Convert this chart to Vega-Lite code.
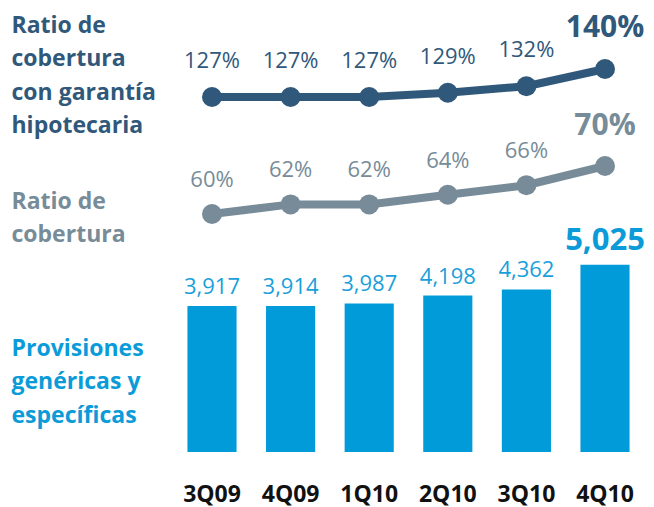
{
  "$schema": "https://vega.github.io/schema/vega-lite/v6.json",
  "width": 654,
  "height": 507,
  "autosize": {"type": "none"},
  "padding": 0,
  "background": "white",
  "config": {"view": {"stroke": null}, "font": "Open Sans"},
  "data": {
    "values": [
      {"quarter": "3Q09", "prov": 3917, "hip": 1.27, "cob": 0.60, "last": false},
      {"quarter": "4Q09", "prov": 3914, "hip": 1.27, "cob": 0.62, "last": false},
      {"quarter": "1Q10", "prov": 3987, "hip": 1.27, "cob": 0.62, "last": false},
      {"quarter": "2Q10", "prov": 4198, "hip": 1.29, "cob": 0.64, "last": false},
      {"quarter": "3Q10", "prov": 4362, "hip": 1.32, "cob": 0.66, "last": false},
      {"quarter": "4Q10", "prov": 5025, "hip": 1.40, "cob": 0.70, "last": true}
    ]
  },
  "encoding": {
    "x": {
      "field": "quarter",
      "type": "nominal",
      "sort": null,
      "scale": {"type": "band", "range": [172.7, 644.3], "paddingInner": 0.375, "paddingOuter": 0.1875},
      "axis": {
        "orient": "bottom", "offset": -6, "domain": false, "ticks": false, "tickSize": 0,
        "labelPadding": 0, "labelBaseline": "alphabetic", "labelFontSize": 23,
        "labelFontWeight": "bold", "labelColor": "#111111", "labelFont": "Open Sans",
        "labelAngle": 0, "title": null, "grid": false
      }
    }
  },
  "layer": [
    {
      "encoding": {
        "y": {
          "field": "prov", "type": "quantitative",
          "scale": {"domain": [-1475.6, 12126.7], "nice": false, "zero": false},
          "axis": {
            "orient": "left", "offset": 0, "labels": false, "ticks": false, "domain": false, "grid": false,
            "title": ["Provisiones", "genéricas y", "específicas"],
            "titleAngle": 0, "titleAlign": "left", "titleBaseline": "alphabetic",
            "titleX": 11, "titleY": 355, "titleFontSize": 23, "titleFontWeight": "bold",
            "titleColor": "#0A9BD8", "titleLineHeight": 33.5, "titleFont": "Open Sans", "titlePadding": 0
          }
        }
      },
      "layer": [
        {"mark": {"type": "bar", "color": "#009BD8"}},
        {
          "transform": [{"filter": "!datum.last"}],
          "mark": {"type": "text", "baseline": "alphabetic", "dy": -12, "fontSize": 22, "color": "#1A9FDA", "font": "Open Sans"},
          "encoding": {"text": {"field": "prov", "type": "quantitative", "format": ",d"}}
        },
        {
          "transform": [{"filter": "datum.last"}],
          "mark": {"type": "text", "baseline": "alphabetic", "dy": -15, "fontSize": 31, "fontWeight": "bold", "color": "#0A9BD8", "font": "Open Sans"},
          "encoding": {"text": {"field": "prov", "type": "quantitative", "format": ",d"}}
        }
      ]
    },
    {
      "encoding": {
        "y": {
          "field": "hip", "type": "quantitative",
          "scale": {"domain": [-0.6336, 1.7204], "nice": false, "zero": false},
          "axis": {
            "orient": "left", "offset": 0, "labels": false, "ticks": false, "domain": false, "grid": false,
            "title": ["Ratio de", "cobertura", "con garantía", "hipotecaria"],
            "titleAngle": 0, "titleAlign": "left", "titleBaseline": "alphabetic",
            "titleX": 11, "titleY": 32, "titleFontSize": 23, "titleFontWeight": "bold",
            "titleColor": "#30587A", "titleLineHeight": 33.5, "titleFont": "Open Sans", "titlePadding": 0
          }
        }
      },
      "layer": [
        {"mark": {"type": "line", "color": "#30587A", "strokeWidth": 8}},
        {"mark": {"type": "circle", "color": "#30587A", "size": 400, "opacity": 1}},
        {
          "transform": [{"filter": "!datum.last"}],
          "mark": {"type": "text", "baseline": "alphabetic", "dy": -29, "fontSize": 22, "color": "#30587A", "font": "Open Sans"},
          "encoding": {"text": {"field": "hip", "type": "quantitative", "format": ".0%"}}
        },
        {
          "transform": [{"filter": "datum.last"}],
          "mark": {"type": "text", "baseline": "alphabetic", "dy": -32, "fontSize": 30, "fontWeight": "bold", "color": "#30587A", "font": "Open Sans"},
          "encoding": {"text": {"field": "hip", "type": "quantitative", "format": ".0%"}}
        }
      ]
    },
    {
      "encoding": {
        "y": {
          "field": "cob", "type": "quantitative",
          "scale": {"domain": [-0.0104, 1.0458], "nice": false, "zero": false},
          "axis": {
            "orient": "left", "offset": 0, "labels": false, "ticks": false, "domain": false, "grid": false,
            "title": ["Ratio de", "cobertura"],
            "titleAngle": 0, "titleAlign": "left", "titleBaseline": "alphabetic",
            "titleX": 11, "titleY": 208, "titleFontSize": 23, "titleFontWeight": "bold",
            "titleColor": "#778C98", "titleLineHeight": 33.5, "titleFont": "Open Sans", "titlePadding": 0
          }
        }
      },
      "layer": [
        {"mark": {"type": "line", "color": "#778C98", "strokeWidth": 8}},
        {"mark": {"type": "circle", "color": "#778C98", "size": 400, "opacity": 1}},
        {
          "transform": [{"filter": "!datum.last"}],
          "mark": {"type": "text", "baseline": "alphabetic", "dy": -27, "fontSize": 22, "color": "#778C98", "font": "Open Sans"},
          "encoding": {"text": {"field": "cob", "type": "quantitative", "format": ".0%"}}
        },
        {
          "transform": [{"filter": "datum.last"}],
          "mark": {"type": "text", "baseline": "alphabetic", "dy": -31, "fontSize": 30, "fontWeight": "bold", "color": "#778C98", "font": "Open Sans"},
          "encoding": {"text": {"field": "cob", "type": "quantitative", "format": ".0%"}}
        }
      ]
    }
  ],
  "resolve": {"scale": {"y": "independent"}}
}
